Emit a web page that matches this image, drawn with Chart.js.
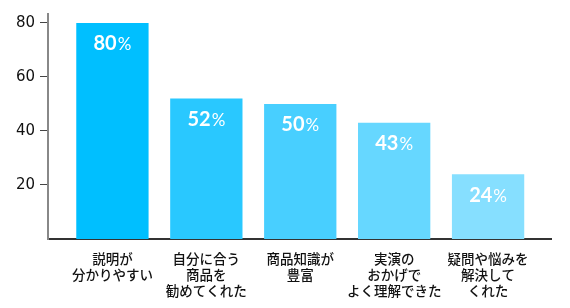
<!DOCTYPE html>
<html>
<head>
<meta charset="utf-8">
<script src="https://cdn.jsdelivr.net/npm/chart.js@4"></script>
<style>
  html, body { margin: 0; padding: 0; background: #fff; }
  #wrap { width: 570px; height: 308px; }
</style>
</head>
<body>
<div id="wrap"><canvas id="chart"></canvas></div>
<script>
"use strict";

const categories = [
    ["説明が", "分かりやすい"],
    ["自分に合う", "商品を", "勧めてくれた"],
    ["商品知識が", "豊富"],
    ["実演の", "おかげで", "よく理解できた"],
    ["疑問や悩みを", "解決して", "くれた"]
];
const values = [80, 52, 50, 43, 24];
const bar_colors = ["#00bfff", "#29c8ff", "#48cfff", "#66d7ff", "#86dfff"];
const y_ticks = [20, 40, 60, 80];

// numbers inside the bars: big digits, smaller percent sign
const value_labels = {
    id: "value_labels",
    afterDatasetsDraw(chart) {
        const ctx = chart.ctx;
        const meta = chart.getDatasetMeta(0);
        ctx.save();
        ctx.fillStyle = "#fff";
        ctx.textBaseline = "middle";
        meta.data.forEach((bar, i) => {
            const num = String(values[i]);
            ctx.font = "bold 20px Lato";
            const w1 = ctx.measureText(num).width;
            ctx.font = "17px Lato";
            const w2 = ctx.measureText("%").width;
            const left = bar.x - (w1 + w2 + 1) / 2;
            const y = bar.y + 21;
            ctx.textAlign = "left";
            ctx.font = "bold 20px Lato";
            ctx.fillText(num, left, y);
            ctx.font = "17px Lato";
            ctx.fillText("%", left + w1 + 1, y + 1);
        });
        ctx.restore();
    }
};

new Chart(document.getElementById("chart"), {
    type: "bar",
    data: {
        datasets: [{
            data: values.map((v, i) => ({ x: i, y: v })),
            backgroundColor: bar_colors,
            borderWidth: 0,
            categoryPercentage: 1,
            barPercentage: 0.77
        }]
    },
    options: {
        responsive: true,
        maintainAspectRatio: false,
        animation: false,
        layout: { padding: { top: 14, right: 19, left: 0, bottom: 0 } },
        plugins: {
            legend: { display: false },
            tooltip: { enabled: false }
        },
        scales: {
            x: {
                type: "linear",
                offset: false,
                min: -0.686,
                max: 4.67,
                afterBuildTicks: scale => {
                    scale.ticks = categories.map((c, i) => ({ value: i }));
                },
                afterFit: scale => { scale.height = 69; },
                grid: { display: false, offset: false },
                border: { display: true, color: "#333", width: 2 },
                ticks: {
                    autoSkip: false,
                    maxRotation: 0,
                    padding: 4,
                    color: "#111",
                    font: { family: "'Noto Sans CJK JP'", size: 13.5, weight: 500, lineHeight: 1.18 },
                    callback: value => categories[value] || ""
                }
            },
            y: {
                min: 0,
                max: 83.3,
                afterBuildTicks: scale => {
                    scale.ticks = y_ticks.map(v => ({ value: v }));
                },
                afterFit: scale => { scale.width = 48; },
                grid: {
                    drawOnChartArea: false,
                    drawTicks: true,
                    tickLength: 8,
                    tickColor: "#444",
                    tickWidth: 1
                },
                border: { display: true, color: "#888", width: 2 },
                ticks: {
                    padding: 5,
                    color: "#111",
                    font: { family: "'DejaVu Sans'", size: 15 }
                }
            }
        }
    },
    plugins: [value_labels]
});
</script>
</body>
</html>
